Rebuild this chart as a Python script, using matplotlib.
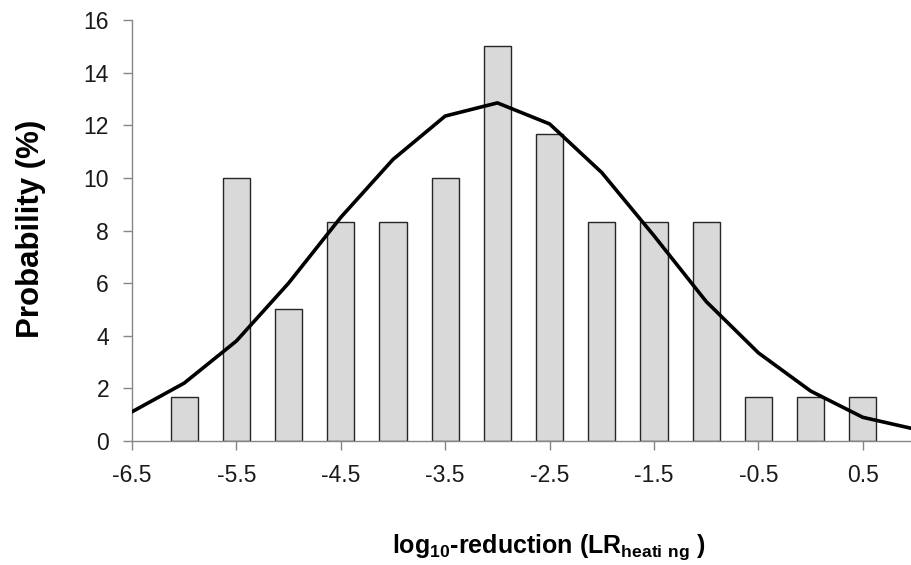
import matplotlib
matplotlib.use("Agg")
import matplotlib.pyplot as plt
import numpy as np

# ── Data ─────────────────────────────────────────────────────────
bar_x = [-6.0, -5.5, -5.0, -4.5, -4.0, -3.5, -3.0, -2.5, -2.0, -1.5, -1.0, -0.5, 0.0, 0.5]
bar_pct = [1.67, 10.0, 5.0, 8.33, 8.33, 10.0, 15.0, 11.67, 8.33, 8.33, 8.33, 1.67, 1.67, 1.67]

curve_x = [-6.5, -6.0, -5.5, -5.0, -4.5, -4.0, -3.5, -3.0, -2.5, -2.0, -1.5, -1.0, -0.5, 0.0, 0.5, 1.0]
curve_y = [1.11, 2.2, 3.8, 6.0, 8.5, 10.7, 12.35, 12.85, 12.05, 10.2, 7.8, 5.3, 3.35, 1.9, 0.9, 0.45]

xticks = [-6.5, -5.5, -4.5, -3.5, -2.5, -1.5, -0.5, 0.5]
xticklabels = ["-6.5", "-5.5", "-4.5", "-3.5", "-2.5", "-1.5", "-0.5", "0.5"]

# ── Style ────────────────────────────────────────────────────────
plt.rcParams.update(
    {
        "font.family": ["Liberation Sans", "DejaVu Sans"],
        "mathtext.fontset": "custom",
        "mathtext.rm": "Liberation Sans",
        "mathtext.bf": "Liberation Sans:bold",
        "mathtext.default": "bf",
    }
)
AXIS_COLOR = "#868686"

fig = plt.figure(figsize=(9.12, 5.65), dpi=100)
ax = fig.add_axes([132 / 912, 1 - 441 / 565, 1 - 132 / 912, (441 - 20) / 565])

ax.bar(bar_x, bar_pct, width=0.26, color="#d9d9d9", edgecolor="#262626", linewidth=1.0, zorder=2)
ax.plot(curve_x, curve_y, color="black", linewidth=2.6, zorder=3)

# axis runs off the right edge of the picture
ax.set_xlim(-6.5, -6.5 + (912 - 132) / 104.4)
ax.set_ylim(0, 16)
ax.set_yticks(np.arange(0, 17, 2))
ax.set_xticks(xticks)
ax.set_xticklabels(xticklabels)

for side in ["top", "right"]:
    ax.spines[side].set_visible(False)
for side in ["left", "bottom"]:
    ax.spines[side].set_color(AXIS_COLOR)
    ax.spines[side].set_linewidth(1.0)

ax.tick_params(axis="both", colors=AXIS_COLOR, labelcolor="#1a1a1a", labelsize=16.5, length=6.5, width=1.0)
ax.tick_params(axis="x", pad=10)
ax.tick_params(axis="y", pad=10)

fig.text(31 / 912, 1 - 229 / 565, "Probability (%)", rotation=90, ha="center", va="center",
         fontsize=22.5, fontweight="bold")
fig.text(549 / 912, 1 - 547 / 565, "log$_{10}$-reduction (LR$_{heati\\ ng}$ )", ha="center", va="center",
         fontsize=18, fontweight="bold")

fig.savefig("out.png", dpi=100)
